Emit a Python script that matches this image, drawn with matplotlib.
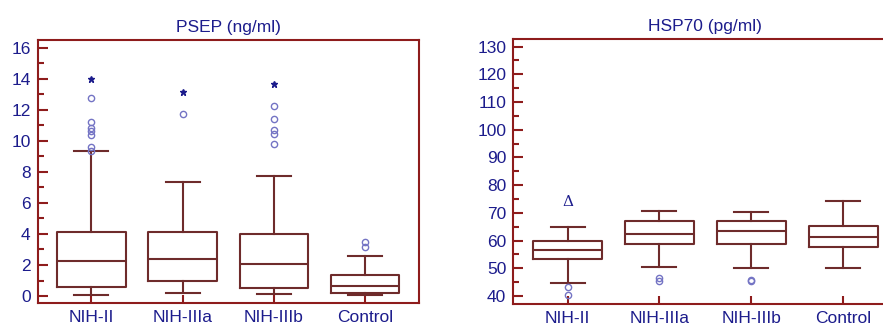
import matplotlib
matplotlib.use('Agg')
import matplotlib.pyplot as plt
from matplotlib.ticker import MultipleLocator

plt.rcParams['font.family'] = ['Liberation Sans', 'DejaVu Sans']

groups = ['NIH-II', 'NIH-IIIa', 'NIH-IIIb', 'Control']

# PSEP (ng/ml): whisker low, Q1, median, Q3, whisker high
psep_low = [0.09, 0.17, 0.15, 0.04]
psep_q1 = [0.56, 0.99, 0.54, 0.19]
psep_med = [2.26, 2.41, 2.06, 0.62]
psep_q3 = [4.11, 4.11, 4.02, 1.35]
psep_high = [9.37, 7.33, 7.74, 2.60]
psep_outliers = [[9.37, 9.61, 10.41, 10.62, 10.86, 11.23, 12.77],
                 [11.72],
                 [9.78, 10.47, 10.73, 11.42, 12.24],
                 [3.18, 3.50]]
psep_far = [13.98, 13.14, 13.66, None]

# HSP70 (pg/ml)
hsp_low = [44.8, 50.4, 50.0, 50.0]
hsp_q1 = [53.4, 58.9, 58.9, 57.7]
hsp_med = [56.5, 62.4, 63.3, 61.3]
hsp_q3 = [59.9, 67.0, 67.0, 65.2]
hsp_high = [64.8, 70.7, 70.4, 74.3]
hsp_outliers = [[43.1, 40.3], [46.6, 45.4], [45.8, 45.4], []]
hsp_delta = 74.0

box_color = '#6e2b2b'
spine_color = '#8e1c1c'
text_color = '#1c1c8c'
flier_color = '#7474c4'

fig = plt.figure(figsize=(8.83, 3.27), dpi=100)
ax1 = fig.add_axes([0.0425, 0.0734, 0.432, 0.804])
ax2 = fig.add_axes([0.5813, 0.0713, 0.435, 0.809])


def draw(ax, low, q1, med, q3, high, outliers):
    stats = []
    for i in range(len(groups)):
        stats.append({'whislo': low[i], 'q1': q1[i], 'med': med[i],
                      'q3': q3[i], 'whishi': high[i], 'fliers': []})
    lp = dict(color=box_color, linewidth=1.5)
    ax.bxp(stats, positions=[1, 2, 3, 4], widths=0.75, capwidths=0.37,
           boxprops=lp, medianprops=lp, whiskerprops=lp, capprops=lp,
           showfliers=False, manage_ticks=False)
    for i, vals in enumerate(outliers):
        if vals:
            ax.plot([i + 1] * len(vals), vals, 'o', mfc='none', mec=flier_color,
                    ms=4.5, mew=1, zorder=3)
    ax.set_xlim(0.41, 4.59)
    ax.set_xticks([1, 2, 3, 4])
    ax.set_xticklabels(groups)
    for s in ax.spines.values():
        s.set_color(spine_color)
        s.set_linewidth(1.5)
    ax.tick_params(axis='both', which='both', direction='in', color=spine_color,
                   labelcolor=text_color, labelsize=12.5, width=1.5)
    ax.tick_params(axis='y', which='major', length=7, pad=5)
    ax.tick_params(axis='y', which='minor', length=4)
    ax.tick_params(axis='x', which='major', length=6, pad=5)
    ax.tick_params(top=False, right=False)


draw(ax1, psep_low, psep_q1, psep_med, psep_q3, psep_high, psep_outliers)
for i, v in enumerate(psep_far):
    if v is not None:
        ax1.plot(i + 1, v, '*', color=text_color, ms=5, zorder=3)
ax1.set_ylim(-0.45, 16.5)
ax1.yaxis.set_major_locator(MultipleLocator(2))
ax1.yaxis.set_minor_locator(MultipleLocator(1))
ax1.set_title('PSEP (ng/ml)', color=text_color, fontsize=12.5, pad=6)

draw(ax2, hsp_low, hsp_q1, hsp_med, hsp_q3, hsp_high, hsp_outliers)
ax2.text(1, hsp_delta, 'Δ', color=text_color, fontsize=11, ha='center', va='center',
         family='DejaVu Serif')
ax2.set_ylim(37.2, 132.7)
ax2.yaxis.set_major_locator(MultipleLocator(10))
ax2.yaxis.set_minor_locator(MultipleLocator(5))
ax2.set_title('HSP70 (pg/ml)', color=text_color, fontsize=12.5, pad=6)

fig.savefig('out.png', dpi=100)
